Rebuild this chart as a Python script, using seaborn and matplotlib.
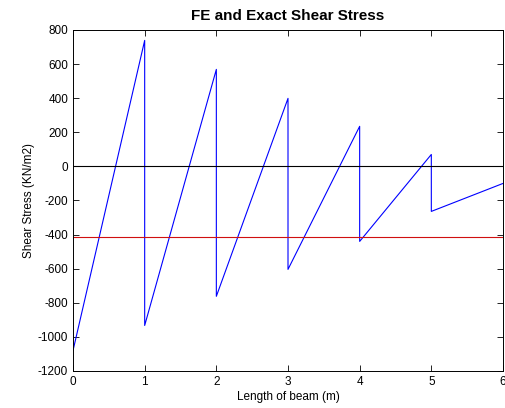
import matplotlib
matplotlib.use('Agg')
import matplotlib.pyplot as plt
import seaborn as sns
import pandas as pd

sns.set_style('white')
plt.rcParams['font.family'] = ['Liberation Sans', 'DejaVu Sans']
plt.rcParams['axes.unicode_minus'] = False
plt.rcParams['text.color'] = 'black'
plt.rcParams['axes.labelcolor'] = 'black'
plt.rcParams['xtick.color'] = 'black'
plt.rcParams['ytick.color'] = 'black'

# FE shear stress (sawtooth, jumps at element nodes)
fe_x = [0, 1, 1, 2, 2, 3, 3, 4, 4, 5, 5, 6]
fe_y = [-1080, 739, -933, 569, -762, 399, -604, 235, -440, 70, -264, -100]

# reference lines
zero_x = [0, 6]
zero_y = [0, 0]
exact_x = [0, 6]
exact_y = [-416, -416]

fig = plt.figure(figsize=(5.05, 4.08), dpi=100)
ax = fig.add_axes([0.1446, 0.0907, 0.8514, 0.8358])

sns.lineplot(x=fe_x, y=fe_y, sort=False, estimator=None, color='blue', lw=0.8, ax=ax)
sns.lineplot(x=zero_x, y=zero_y, sort=False, estimator=None, color='black', lw=0.8, ax=ax)
sns.lineplot(x=exact_x, y=exact_y, sort=False, estimator=None, color='#d01010', lw=0.8, ax=ax)

ax.set_xlim(0, 6)
ax.set_ylim(-1200, 800)
ax.set_xticks(range(0, 7))
ax.set_yticks(range(-1200, 801, 200))
ax.tick_params(direction='in', bottom=True, left=True, top=True, right=True,
               length=4, labelsize=8.5, width=0.6, color='black')
for s in ax.spines.values():
    s.set_linewidth(0.7)
    s.set_color('black')

ax.set_title('FE and Exact Shear Stress', fontsize=11, fontweight='bold', pad=7)
ax.set_xlabel('Length of beam (m)', fontsize=8.5, labelpad=2)
ax.set_ylabel('Shear Stress (KN/m2)', fontsize=8.5, labelpad=2)

fig.savefig('out.png', dpi=100)
